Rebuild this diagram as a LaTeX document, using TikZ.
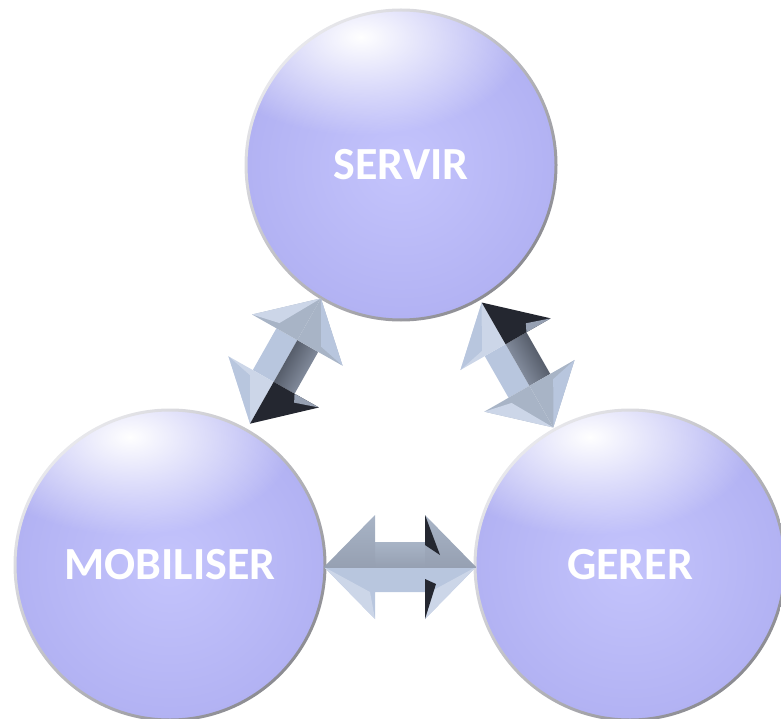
\documentclass[tikz,border=0pt]{standalone}
\usepackage{fontspec}
\setmainfont{Carlito}
\usetikzlibrary{calc,fadings}
\definecolor{ballin}{RGB}{196,196,252}
\definecolor{ballout}{RGB}{178,178,243}
\definecolor{rimLight}{RGB}{232,232,236}
\definecolor{rimDark}{RGB}{140,140,146}
\definecolor{arLight}{RGB}{184,198,222}
\definecolor{arLight2}{RGB}{204,214,232}
\definecolor{arMid}{RGB}{150,160,178}
\definecolor{arMid2}{RGB}{168,180,198}
\definecolor{arDark}{RGB}{66,72,84}
\definecolor{arBlack}{RGB}{36,39,48}
\tikzfading[name=hlfade, inner color=transparent!0, outer color=transparent!100]
\tikzset{
  ball/.style={circle, minimum size=308pt, inner sep=0pt, shade, inner color=ballin, outer color=ballout},
  balltext/.style={text=white, font=\bfseries\fontsize{46}{46}\selectfont},
  hilite/.style={white, opacity=1, path fading=hlfade},
  rimring/.style={even odd rule, top color=rimLight, bottom color=rimDark, shading angle=45},
  faceLight/.style={fill=arLight},
  faceLight2/.style={fill=arLight2},
  faceMid/.style={fill=arMid},
  faceMid2/.style={fill=arMid2},
  faceDark/.style={fill=arDark},
  faceBlack/.style={fill=arBlack},
}
% diagonal bevelled double arrow: #1 centre, #2 angle, #3 yscale (side of dark face)
\newcommand\myDiagArrow[3]{%
\begin{scope}[shift={#1}, x=1pt, y=1pt, rotate=#2, yscale=#3]
  % light side (-y)
  \path[faceLight] (-24,0) -- (-24,-24) -- (24,-24) -- (24,0) -- cycle;
  \path[faceLight2] (-72,0) -- (-24,-52) -- (-24,0) -- cycle;
  \path[faceMid2] (72,0) -- (24,-52) -- (24,0) -- cycle;
  \path[faceLight] (-72,0) -- (-24,-52) -- (-30,-24) -- cycle;
  \path[faceLight2] (72,0) -- (24,-52) -- (30,-24) -- cycle;
  % dark side (+y)
  \shade[top color=arDark, bottom color=arMid, shading angle=#2] (-24,0) rectangle (24,24);
  \path[faceMid2] (72,0) -- (24,52) -- (24,0) -- cycle;
  \path[faceLight] (72,0) -- (24,52) -- (30,24) -- cycle;
  \path[faceBlack] (-72,0) -- (-24,52) -- (-24,0) -- cycle;
  \path[faceMid] (-24,52) -- (-24,24) -- (-32,28) -- cycle;
\end{scope}}
\begin{document}
\begin{tikzpicture}[x=1pt, y=-1pt]
\useasboundingbox (0,0) rectangle (781,719);
% balls
\node[ball] (s) at (401,165) {};
\node[ball] (m) at (170,565) {};
\node[ball] (g) at (630,565) {};
\foreach \n in {s,m,g}{
  \begin{scope}
    \clip (\n.center) circle [radius=154pt];
    \fill[hilite] ($(\n.center)+(-40,-128)$) ellipse [x radius=165pt, y radius=98pt];
  \end{scope}
  \shade[rimring] (\n.center) circle [radius=156.5pt] (\n.center) circle [radius=153.5pt];
}
\node[balltext] at (s) {SERVIR};
\node[balltext] at (m) {MOBILISER};
\node[balltext] at (g) {GERER};
% diagonal arrows
\myDiagArrow{($(s)!0.5!(m)+(0,-4)$)}{60.5}{-1}
\myDiagArrow{($(s)!0.5!(g)+(2,0)$)}{-60.2}{1}
% horizontal arrow between MOBILISER and GERER
\coordinate (hc) at ($(m.east)!0.5!(g.west)+(0,2)$);
\begin{scope}[shift={(hc)}, x=1pt, y=1pt]
  \path[faceLight] (-76,0) -- (-25,-52) -- (-25,-25) -- (25,-25) -- (25,-52) -- (76,0) -- cycle;
  \path[faceLight2] (-76,0) -- (-25,-52) -- (-30,-25) -- cycle;
  \path[faceLight2] (76,0) -- (25,-52) -- (30,-25) -- cycle;
  \shade[top color=arMid2, bottom color=arMid] (-25,0) rectangle (25,25);
  \shade[top color=arMid2, bottom color=arMid] (-76,0) -- (-25,52) -- (-25,0) -- cycle;
  \shade[top color=arMid2, bottom color=arMid] (76,0) -- (25,52) -- (25,0) -- cycle;
  \path[faceBlack] (25,52) -- (25,22) -- (40,12) -- cycle;
  \path[faceBlack] (25,-52) -- (25,-12) -- (36,-17) -- cycle;
  \draw[arMid, line width=0.6pt] (-76,0) -- (76,0);
\end{scope}
\end{tikzpicture}
\end{document}
